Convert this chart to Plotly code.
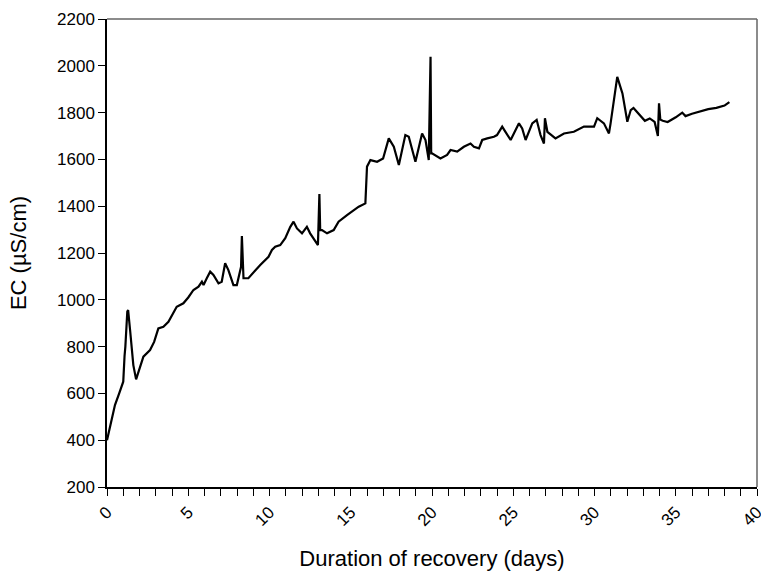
import plotly.graph_objects as go

days = [0.0, 0.15, 0.35, 0.49, 0.75, 1.0, 1.08, 1.13, 1.25, 1.3, 1.42, 1.62, 1.79, 2.0, 2.24, 2.65,
        2.9, 3.16, 3.47, 3.78, 4.0, 4.29, 4.7, 5.0,
        5.32, 5.63, 5.84, 5.94, 6.14, 6.35, 6.55, 6.86, 7.06, 7.27, 7.47, 7.78, 7.99, 8.13, 8.25,
        8.3, 8.35, 8.4, 8.7, 9.12, 9.43, 9.94, 10.15, 10.35, 10.66, 10.97, 11.28, 11.48, 11.69,
        12.0, 12.3, 12.5, 12.82, 12.98, 13.07, 13.12, 13.23, 13.54, 13.95, 14.25, 14.77, 15.49,
        15.9, 16.0, 16.21, 16.62, 16.99, 17.34, 17.65, 17.96, 18.36, 18.57, 18.98, 19.39, 19.6,
        19.8, 19.91, 19.95, 20.0, 20.52, 20.93, 21.14, 21.55, 21.96, 22.37, 22.58, 22.89, 23.09,
        23.4, 23.81, 24.0, 24.32, 24.52, 24.84, 25.35, 25.55, 25.76, 26.17, 26.44, 26.68, 26.89,
        26.95, 27.1, 27.6, 28.12, 28.73, 29.35, 29.97, 30.17, 30.58, 30.89, 30.99, 31.4, 31.72,
        32.02, 32.23, 32.4, 32.8, 33.1, 33.4, 33.7, 33.9, 33.97, 34.05, 34.2, 34.5, 35.0, 35.4,
        35.6, 36.0, 36.5, 37.0, 37.5, 38.0, 38.3]
ec = [400, 450, 515, 550, 600, 650, 760, 800, 950, 956, 871, 721, 660, 710, 757, 785,
      820, 878, 885, 906, 935, 970, 985, 1010,
      1042, 1056, 1077, 1063, 1092, 1120, 1106, 1070, 1077, 1156, 1127, 1063, 1063, 1113, 1141,
      1272, 1140, 1092, 1092, 1127, 1149, 1184, 1213, 1227, 1234, 1263, 1312, 1334, 1305,
      1284, 1312, 1284, 1248, 1234, 1452, 1298, 1298, 1284, 1298, 1334, 1362, 1398,
      1412, 1569, 1597, 1590, 1604, 1690, 1654, 1576, 1704, 1697, 1590, 1711, 1683,
      1597, 2039, 1626, 1626, 1604, 1619, 1640, 1633, 1654, 1668, 1654, 1647, 1683,
      1690, 1697, 1704, 1740, 1718, 1683, 1754, 1732, 1683, 1754, 1769, 1704, 1668,
      1776, 1718, 1690, 1711, 1718, 1740, 1740, 1776, 1754, 1711, 1754, 1953, 1882,
      1761, 1811, 1820, 1790, 1765, 1775, 1760, 1700, 1840, 1770, 1765, 1760, 1780, 1800,
      1785, 1795, 1805, 1815, 1820, 1830, 1845]

x_title = "Duration of recovery (days)"
y_title = "EC (µS/cm)"

fig = go.Figure()
fig.add_trace(go.Scatter(x=days, y=ec, mode="lines",
                         line=dict(color="black", width=2.2), showlegend=False))

font = dict(family="Liberation Sans, Arial, sans-serif", color="black")

fig.update_layout(
    width=761, height=571,
    margin=dict(l=107, r=4, t=19, b=84),
    plot_bgcolor="white", paper_bgcolor="white",
    font=dict(**font, size=17),
    xaxis=dict(range=[0, 40], dtick=5, tick0=0, showgrid=False, zeroline=False,
               showline=True, linecolor="black", linewidth=1.5,
               ticks="outside", ticklen=7, tickcolor="black", tickwidth=1,
               tickangle=-45, tickfont=dict(**font, size=17),
               ticklabeloverflow="allow", automargin=False,
               minor=dict(dtick=1, ticks="outside", ticklen=7, tickcolor="black", tickwidth=1),
               title=dict(text=x_title, font=dict(**font, size=22), standoff=22)),
    yaxis=dict(range=[200, 2200], dtick=200, tick0=200, showgrid=False, zeroline=False,
               showline=True, linecolor="black", linewidth=1.5,
               ticks="outside", ticklen=7, tickcolor="black", tickwidth=1,
               tickfont=dict(**font, size=17), automargin=False,
               title=dict(text=y_title, font=dict(**font, size=22), standoff=24)),
    shapes=[
        dict(type="line", xref="paper", yref="paper", x0=0, x1=1, y0=1, y1=1,
             line=dict(color="#666666", width=1.5)),
        dict(type="line", xref="paper", yref="paper", x0=1, x1=1, y0=0, y1=1,
             line=dict(color="#666666", width=1.5)),
    ],
)

fig.write_html("out.html")
